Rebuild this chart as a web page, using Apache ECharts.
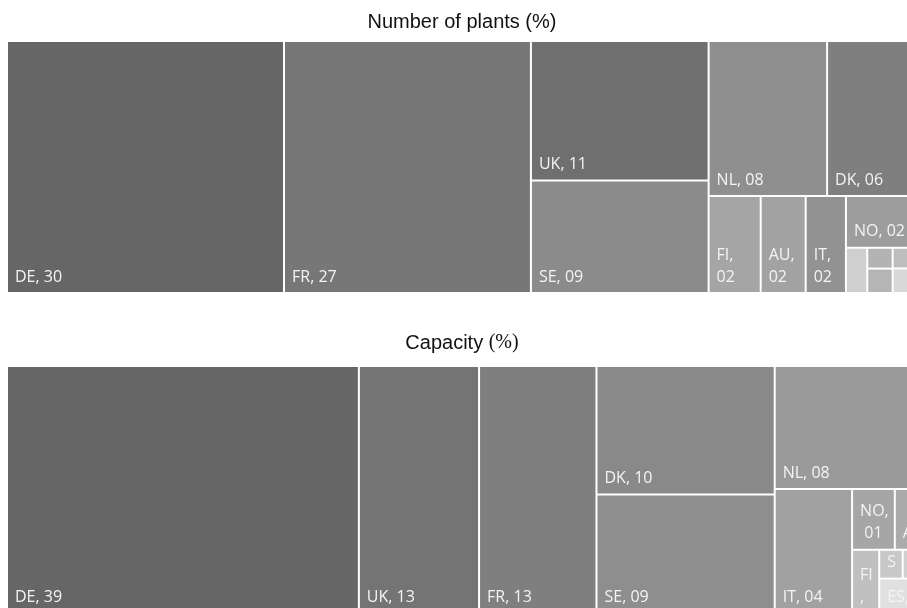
<!DOCTYPE html>
<html><head><meta charset="utf-8">
<script src="https://cdn.jsdelivr.net/npm/echarts/dist/echarts.min.js"></script>
<style>html,body{margin:0;padding:0;background:#fff}#c{width:907px;height:608px}</style>
</head><body><div id="c"></div>
<script>
// Number of plants (%)
const plantNames  = ['DE','FR','UK','SE','NL','DK','FI','AU','IT','NO','LT','SI','HU','ES','CZ'];
const plantValues = [30.4, 27.1, 10.8, 8.7, 8.0, 6.0, 2.2, 1.9, 1.7, 1.58, 0.42, 0.23, 0.27, 0.21, 0.25];
const plantColors = ['#666666','#777777','#6f6f6f','#8b8b8b','#8f8f8f','#7f7f7f','#a5a5a5','#a2a2a2','#929292','#9d9d9d','#cfcfcf','#b3b3b3','#b5b5b5','#bdbdbd','#d8d8d8'];
// grouping of the small tiles (indices), as tiled in the original
const plantTree = [0,1,2,3,4,5,6,7,8,[9,10,11,12,13,14]];

// Capacity (%)
const capNames  = ['DE','UK','FR','DK','SE','NL','IT','NO','AU','FI','SI','HU','ES'];
const capValues = [38.5, 13.15, 12.85, 10.15, 9.35, 7.7, 4.25, 1.15, 0.57, 0.76, 0.30, 0.17, 0.56];
const capColors = ['#666666','#747474','#7f7f7f','#898989','#8e8e8e','#9a9a9a','#a1a1a1','#a6a6a6','#ababab','#c0c0c0','#c8c8c8','#d0d0d0','#e0e0e0'];
const capTree = [0,1,2,3,4,5,6,[[7,8],[9,[[10,11],12]]]];

function build(tree, names, values, colors) {
  return tree.map(function (n) {
    if (Array.isArray(n)) return { name: '', children: build(n, names, values, colors) };
    return { name: names[n], value: values[n], itemStyle: { color: colors[n] } };
  });
}
function fmt(p) {
  const v = Math.round(p.value);
  return p.name + ', ' + (v < 10 ? '0' + v : String(v));
}
function series(data, top, height) {
  return {
    type: 'treemap', left: 8, top: top, width: 907, height: height,
    roam: false, nodeClick: false, sort: false, squareRatio: 0.88,
    breadcrumb: { show: false }, silent: true, animation: false,
    visibleMin: 0,
    itemStyle: { borderWidth: 0, gapWidth: 2, borderColor: '#ffffff' },
    upperLabel: { show: false },
    label: {
      show: true, position: 'insideBottomLeft', distance: 0,
      padding: [0, 4, 4, 7], color: '#f4f4f4', fontFamily: 'Open Sans',
      fontSize: 16, lineHeight: 22, overflow: 'break', ellipsis: '…',
      formatter: fmt
    },
    data: data
  };
}
const chart = echarts.init(document.getElementById('c'), null, { renderer: 'canvas' });
const titleFont = { fontFamily: 'Liberation Sans', fontSize: 20, fontWeight: 'normal', color: '#111111' };
chart.setOption({
  backgroundColor: '#ffffff',
  animation: false,
  title: [
    { text: 'Number of plants (%)', left: 462, top: 22, textAlign: 'center', textVerticalAlign: 'middle', padding: 0,
      textStyle: titleFont },
    { text: '{a|Capacity }{b|(%)}', left: 462, top: 343, textAlign: 'center', textVerticalAlign: 'middle', padding: 0,
      textStyle: { fontWeight: 'normal', rich: {
        a: titleFont,
        b: { fontFamily: 'Liberation Serif', fontSize: 20, fontWeight: 'normal', color: '#111111' } } } }
  ],
  series: [
    series(build(plantTree, plantNames, plantValues, plantColors), 42, 250),
    series(build(capTree, capNames, capValues, capColors), 367, 245)
  ]
});
</script>
</body></html>
